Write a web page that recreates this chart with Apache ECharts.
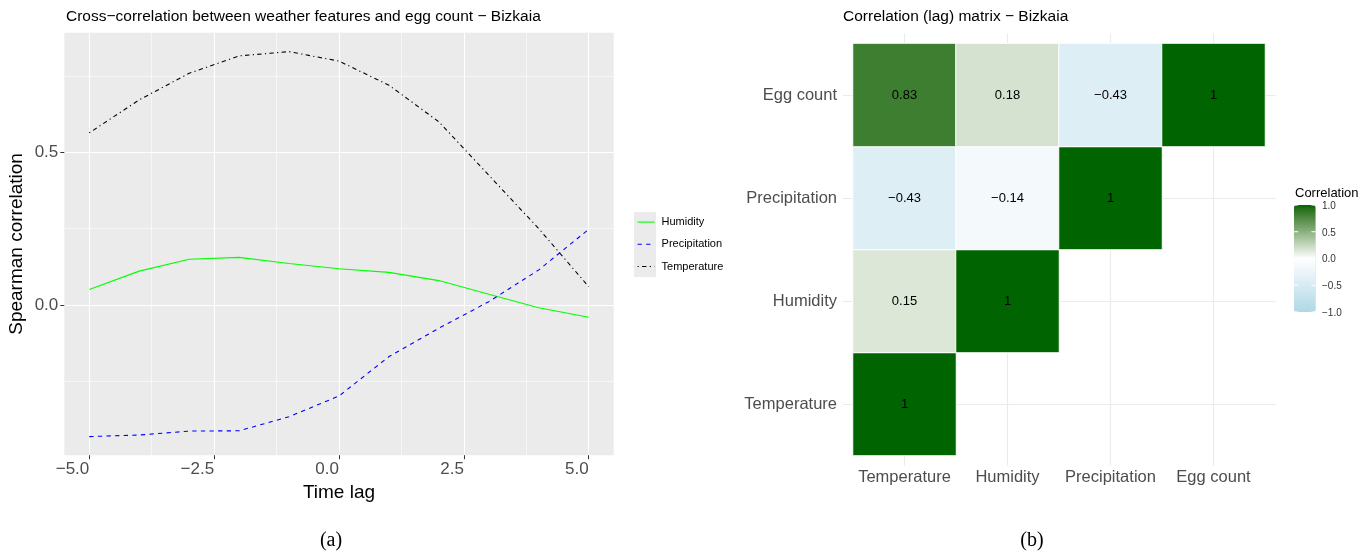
<!DOCTYPE html>
<html>
<head>
<meta charset="utf-8">
<script src="https://cdn.jsdelivr.net/npm/echarts@6/dist/echarts.min.js"></script>
<style>
html,body{margin:0;padding:0;background:#fff;}
#chart{width:1371px;height:553px;}
</style>
</head>
<body>
<div id="chart"></div>
<script>
// ---------- DATA ----------
const lags = [-5, -4, -3, -2, -1, 0, 1, 2, 3, 4, 5];
const humidity = [0.051, 0.111, 0.150, 0.156, 0.136, 0.119, 0.107, 0.080, 0.035, -0.009, -0.040];
const precipitation = [-0.431, -0.426, -0.413, -0.412, -0.366, -0.298, -0.169, -0.076, 0.011, 0.115, 0.248];
const temperature = [0.564, 0.672, 0.759, 0.816, 0.830, 0.799, 0.720, 0.600, 0.425, 0.250, 0.060];
const lagTicks = [-5, -2.5, 0, 2.5, 5];
const lagMinorTicks = [-3.75, -1.25, 1.25, 3.75];
const corrTicks = [0, 0.5];
const corrMinorTicks = [-0.25, 0.25, 0.75];

const matrixVars = ['Temperature', 'Humidity', 'Precipitation', 'Egg count'];
// [column index, row index, value]
const corrCells = [
  [0, 0, 1],
  [0, 1, 0.15], [1, 1, 1],
  [0, 2, -0.43], [1, 2, -0.14], [2, 2, 1],
  [0, 3, 0.83], [1, 3, 0.18], [2, 3, -0.43], [3, 3, 1]
];
const legendTicks = [1, 0.5, 0, -0.5, -1];

// ---------- helpers ----------
const FONT = "'Liberation Sans', Arial, sans-serif";
const minus = s => String(s).replace('-', '\u2212');

function hex2rgb(h){h=h.replace('#','');return [0,2,4].map(i=>parseInt(h.substr(i,2),16));}
function lin(c){c/=255;return c<=0.04045?c/12.92:Math.pow((c+0.055)/1.055,2.4);}
function delin(c){c=c<=0.0031308?12.92*c:1.055*Math.pow(c,1/2.4)-0.055;return Math.max(0,Math.min(255,Math.round(c*255)));}
function rgb2lab(rgb){
  const [R,G,B]=rgb.map(lin);
  const X=(0.4124*R+0.3576*G+0.1805*B)/0.95047, Y=0.2126*R+0.7152*G+0.0722*B, Z=(0.0193*R+0.1192*G+0.9505*B)/1.08883;
  const f=t=>t>0.008856?Math.cbrt(t):7.787*t+16/116;
  const fx=f(X),fy=f(Y),fz=f(Z);
  return [116*fy-16,500*(fx-fy),200*(fy-fz)];
}
function lab2hex(lab){
  const fy=(lab[0]+16)/116, fx=fy+lab[1]/500, fz=fy-lab[2]/200;
  const fi=t=>t*t*t>0.008856?t*t*t:(t-16/116)/7.787;
  const X=fi(fx)*0.95047, Y=fi(fy), Z=fi(fz)*1.08883;
  const R=3.2406*X-1.5372*Y-0.4986*Z, G=-0.9689*X+1.8758*Y+0.0415*Z, B=0.0557*X-0.2040*Y+1.0570*Z;
  return '#'+[R,G,B].map(delin).map(v=>v.toString(16).padStart(2,'0')).join('');
}
const LOW=rgb2lab(hex2rgb('#ADD8E6')), MID=rgb2lab(hex2rgb('#FFFFFF')), HIGH=rgb2lab(hex2rgb('#006400'));
const mix=(a,b,t)=>a.map((v,i)=>v+(b[i]-v)*t);
const gradStops=[];
for(let k=0;k<=40;k++){const v=-1+k*0.05; gradStops.push(lab2hex(v<0?mix(LOW,MID,v+1):mix(MID,HIGH,v)));}

// ---------- layout constants ----------
const cbLeft=1294, cbTop=205, cbW=21.7, cbH=107;

const graphics = [
  {type:'rect', shape:{x:634, y:212, width:22, height:65}, style:{fill:'#ebebeb'}, z:0},
  {type:'text', x:1295, y:193, style:{text:'Correlation', font:'13px '+FONT, fill:'#000', verticalAlign:'middle'}},
  {type:'text', x:331, y:541, style:{text:'(a)', font:"20px 'Liberation Serif', serif", fill:'#000', align:'center', verticalAlign:'middle'}},
  {type:'text', x:1032, y:541, style:{text:'(b)', font:"20px 'Liberation Serif', serif", fill:'#000', align:'center', verticalAlign:'middle'}}
];
legendTicks.forEach(v=>{
  const y = cbTop + (1-v)/2*cbH;
  graphics.push({type:'text', x:1322, y:y+1, style:{text:minus(v.toFixed(1)), font:'10px '+FONT, fill:'#333', verticalAlign:'middle'}, z:10});
  graphics.push({type:'line', shape:{x1:cbLeft, y1:y, x2:cbLeft+4.3, y2:y}, style:{stroke:'#fff', lineWidth:1}, z:10});
  graphics.push({type:'line', shape:{x1:cbLeft+cbW-4.3, y1:y, x2:cbLeft+cbW, y2:y}, style:{stroke:'#fff', lineWidth:1}, z:10});
});

const lineSeries = (name, vals, color, type) => ({
  type:'line', name, xAxisIndex:0, yAxisIndex:0,
  data: lags.map((x,i)=>[x, vals[i]]),
  symbol:'none', showSymbol:false, silent:true, z:5,
  lineStyle:{color, width:1.1, type}, itemStyle:{color}
});

const option = {
  animation:false,
  textStyle:{fontFamily:FONT},
  title:[
    {text:'Cross\u2212correlation between weather features and egg count \u2212 Bizkaia', left:66, top:9, padding:0,
     textStyle:{fontSize:15.5, fontWeight:'normal', color:'#000', fontFamily:FONT}},
    {text:'Correlation (lag) matrix \u2212 Bizkaia', left:843, top:9, padding:0,
     textStyle:{fontSize:15.5, fontWeight:'normal', color:'#000', fontFamily:FONT}}
  ],
  legend:{
    data:['Humidity','Precipitation','Temperature'], orient:'vertical', left:637, top:216.5, padding:0,
    itemWidth:17, itemHeight:14, itemGap:11, selectedMode:false,
    itemStyle:{opacity:0}, lineStyle:{width:1.1},
    textStyle:{fontSize:11, color:'#000', padding:[0,0,0,2]}
  },
  grid:[
    {left:64.3, right:1371-613.7, top:32.7, bottom:553-455.2, show:true, backgroundColor:'#ebebeb', borderWidth:0, containLabel:false},
    {left:842.7, right:1371-1275.3, top:33.2, bottom:553-465.8, show:false, containLabel:false},
    {left:853, right:1371-1265, top:43.5, bottom:553-455.5, show:false, containLabel:false}
  ],
  xAxis:[
    {type:'value', gridIndex:0, min:-5.5, max:5.5,
     axisLine:{show:false, onZero:false},
     axisTick:{show:true, length:4, customValues:lagTicks, lineStyle:{color:'#333', width:1}},
     axisLabel:{customValues:lagTicks, formatter:v=>minus(v.toFixed(1)), align:'right', fontSize:17, color:'#4d4d4d', margin:6},
     splitLine:{show:true, lineStyle:{color:'#fff', width:1.1}},
     name:'Time lag', nameLocation:'middle', nameGap:27, nameTextStyle:{fontSize:19, color:'#000'}},
    {type:'value', gridIndex:0, min:-5.5, max:5.5, position:'top',
     axisLine:{show:false, onZero:false}, axisTick:{show:false, customValues:lagMinorTicks}, axisLabel:{show:false, customValues:lagMinorTicks},
     splitLine:{show:true, lineStyle:{color:'#fff', width:0.55}}},
    {type:'value', gridIndex:1, min:0.4, max:4.6,
     axisLine:{show:false, onZero:false}, axisTick:{show:false, customValues:[1,2,3,4]}, axisLabel:{show:false, customValues:[1,2,3,4]},
     splitLine:{show:true, lineStyle:{color:'#ebebeb', width:1.1}}},
    {type:'category', gridIndex:2, data:matrixVars,
     axisLine:{show:false, onZero:false}, axisTick:{show:false}, splitLine:{show:false},
     axisLabel:{interval:0, fontSize:16.5, color:'#4d4d4d', margin:13}}
  ],
  yAxis:[
    {type:'value', gridIndex:0, min:-0.492, max:0.892,
     axisLine:{show:false, onZero:false},
     axisTick:{show:true, length:4, customValues:corrTicks, lineStyle:{color:'#333', width:1}},
     axisLabel:{customValues:corrTicks, formatter:v=>minus(v.toFixed(1)), fontSize:17, color:'#4d4d4d', margin:6},
     splitLine:{show:true, lineStyle:{color:'#fff', width:1.1}},
     name:'Spearman correlation', nameLocation:'middle', nameRotate:90, nameGap:38, nameTextStyle:{fontSize:19, color:'#000'}},
    {type:'value', gridIndex:0, min:-0.492, max:0.892, position:'right',
     axisLine:{show:false, onZero:false}, axisTick:{show:false, customValues:corrMinorTicks}, axisLabel:{show:false, customValues:corrMinorTicks},
     splitLine:{show:true, lineStyle:{color:'#fff', width:0.55}}},
    {type:'value', gridIndex:1, min:0.4, max:4.6,
     axisLine:{show:false, onZero:false}, axisTick:{show:false, customValues:[1,2,3,4]}, axisLabel:{show:false, customValues:[1,2,3,4]},
     splitLine:{show:true, lineStyle:{color:'#ebebeb', width:1.1}}},
    {type:'category', gridIndex:2, data:matrixVars,
     axisLine:{show:false, onZero:false}, axisTick:{show:false}, splitLine:{show:false},
     axisLabel:{interval:0, fontSize:16.5, color:'#4d4d4d', margin:16}}
  ],
  visualMap:{
    type:'continuous', min:-1, max:1, seriesIndex:3, calculable:false, hoverLink:false,
    left:cbLeft, top:cbTop, itemWidth:cbW, itemHeight:cbH, padding:0,
    inRange:{color:gradStops}, textStyle:{color:'#333'}
  },
  series:[
    lineSeries('Humidity', humidity, '#00ff00', 'solid'),
    lineSeries('Precipitation', precipitation, '#0000ff', [4.3, 4.3]),
    lineSeries('Temperature', temperature, '#000000', [1.2, 3.3, 4.4, 3.3]),
    {type:'heatmap', xAxisIndex:3, yAxisIndex:3, data:corrCells, silent:true,
     itemStyle:{borderColor:'#fff', borderWidth:1},
     label:{show:true, formatter:p=>minus(p.value[2]), fontSize:13, color:'#000'},
     emphasis:{disabled:true}}
  ],
  graphic:graphics
};

const chart = echarts.init(document.getElementById('chart'), null, {renderer:'canvas'});
chart.setOption(option);
</script>
</body>
</html>
